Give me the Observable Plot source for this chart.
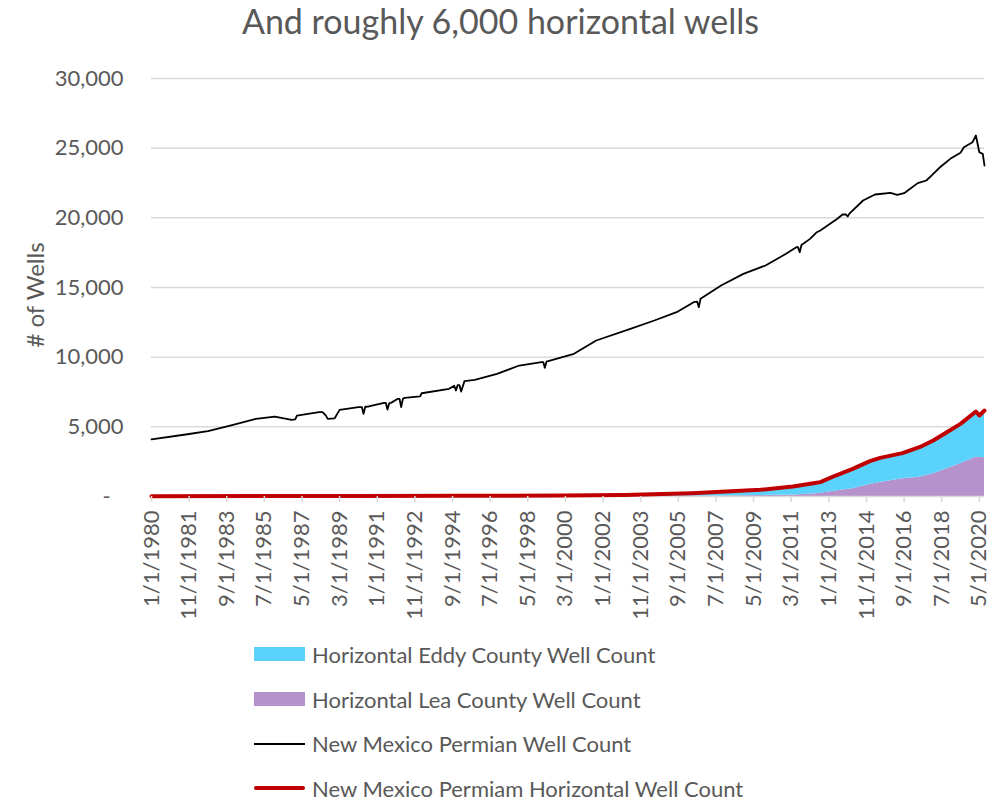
<!DOCTYPE html>
<html><head><meta charset="utf-8">
<script src="https://cdn.jsdelivr.net/npm/d3@7"></script>
<script src="https://cdn.jsdelivr.net/npm/@observablehq/plot@0.6"></script>
<style>
body{margin:0;background:#fff;font-family:Lato,"Open Sans",sans-serif;color:#595959;}
#wrap{position:relative;width:1001px;height:802px;overflow:hidden;background:#fff}
#title{position:absolute;top:-2px;left:0;width:1001px;text-align:center;font-size:34px;line-height:46px;white-space:nowrap}
#chart{position:absolute;top:40px;left:0}
#ylab{position:absolute;left:34px;top:295px;transform:translate(-50%,-50%) rotate(-90deg);font-size:24px;white-space:nowrap}
#legend{position:absolute;left:254px;top:632px}
.item{display:flex;align-items:center;height:44.7px;font-size:22px;white-space:nowrap}
.sw{width:51px;margin-right:7px;}
</style></head>
<body><div id="wrap"><div id="title">And roughly 6,000 horizontal wells</div><div id="chart"></div><div id="ylab"># of Wells</div><div id="legend"></div></div>
<script>
const blackDates = ["1980-01","1981-09","1982-10","1983-11","1985-02","1986-01","1986-11","1987-01","1987-02","1988-03","1988-05","1988-07","1988-08","1988-12","1989-03","1990-02","1990-04","1990-05","1990-06","1990-08","1991-05","1991-06","1991-07","1991-08","1991-09","1992-01","1992-02","1992-03","1992-04","1992-05","1993-02","1993-03","1994-07","1994-10","1994-11","1994-12","1995-01","1995-02","1995-04","1995-10","1996-11","1997-12","1999-01","1999-02","1999-03","1999-04","1999-05","2000-08","2001-09","2003-05","2004-07","2005-08","2006-06","2006-08","2006-09","2006-10","2007-10","2008-11","2009-12","2010-12","2011-06","2011-07","2011-08","2011-09","2012-02","2012-06","2012-08","2013-06","2013-09","2013-11","2013-12","2014-01","2014-09","2015-04","2016-01","2016-05","2016-09","2017-05","2017-10","2018-02","2018-06","2018-12","2019-06","2019-08","2020-01","2020-03","2020-05","2020-07","2020-08"];
const blackValues = [4100,4450,4690,5095,5575,5740,5500,5530,5810,6050,6060,5800,5575,5600,6220,6410,6420,5935,6440,6460,6720,6720,6240,6700,6720,7010,7000,6410,7020,7080,7180,7410,7730,7950,7610,8000,8000,7535,8280,8375,8805,9400,9640,9650,9235,9690,9710,10240,11195,12035,12630,13230,13945,13990,13590,14190,15140,15980,16580,17420,17890,17900,17530,18050,18490,18970,19090,19930,20240,20240,20095,20300,21245,21675,21795,21650,21770,22490,22680,23160,23630,24235,24665,25070,25430,25910,24710,24590,23755];

const horizDates = ["1980-01","1985-01","1990-01","1995-01","2000-01","2003-01","2006-05","2008-01","2009-09","2011-04","2012-04","2012-08","2013-05","2014-03","2015-01","2015-07","2016-08","2017-06","2018-02","2018-10","2019-06","2020-03","2020-05","2020-08"];
const horizTotal = [20,30,40,50,70,110,240,350,480,720,950,1030,1505,1985,2535,2775,3110,3540,4020,4615,5215,6100,5815,6170];
const leaValues  = [0,0,0,0,5,10,20,40,70,110,180,240,400,550,860,1000,1270,1385,1625,1985,2345,2820,2800,2775];
const eddyValues = [15,25,35,45,60,90,200,290,390,580,740,770,1080,1400,1640,1740,1800,2120,2360,2600,2840,3250,2990,3370];

const xTickDates = ["1980-01","1981-11","1983-09","1985-07","1987-05","1989-03","1991-01","1992-11","1994-09","1996-07","1998-05","2000-03","2002-01","2003-11","2005-09","2007-07","2009-05","2011-03","2013-01","2014-11","2016-09","2018-07","2020-05"];
const yTicks = [0,5000,10000,15000,20000,25000,30000];

const seriesNames = ["Horizontal Eddy County Well Count","Horizontal Lea County Well Count","New Mexico Permian Well Count","New Mexico Permiam Horizontal Well Count"];
const seriesColors = ["#5BD2FB","#B592CB","#000000","#C00000"];

const parse = d3.utcParse("%Y-%m");
const black = blackDates.map((d,i)=>({date:parse(d), value:blackValues[i]}));
const horiz = horizDates.map((d,i)=>({date:parse(d), value:horizTotal[i]}));
const stacked = [
  ...horizDates.map((d,i)=>({date:parse(d), county:"Lea", value:leaValues[i]})),
  ...horizDates.map((d,i)=>({date:parse(d), county:"Eddy", value:eddyValues[i]}))
];

const chart = Plot.plot({
  width:1001, height:590,
  marginTop:38, marginBottom:134, marginLeft:151, marginRight:17,
  style:{fontFamily:"Lato, 'Open Sans', sans-serif", fontSize:"22px", color:"#595959", background:"#fff"},
  x:{type:"utc", domain:[parse("1980-01"), parse("2020-08")]},
  y:{domain:[0,30000]},
  color:{domain:["Lea","Eddy"], range:[seriesColors[1], seriesColors[0]]},
  marks:[
    Plot.gridY(yTicks.filter(d=>d>0), {stroke:"#d9d9d9", strokeOpacity:1, strokeWidth:1.5}),
    Plot.areaY(stacked, {x:"date", y:"value", fill:"county", order:["Lea","Eddy"], curve:"linear"}),
    Plot.ruleY([0], {stroke:"#d9d9d9", strokeWidth:1.5}),
    Plot.lineY(black, {x:"date", y:"value", stroke:seriesColors[2], strokeWidth:1.8}),
    Plot.lineY(horiz, {x:"date", y:"value", stroke:seriesColors[3], strokeWidth:4, strokeLinejoin:"round"}),
    Plot.axisX(xTickDates.map(parse), {tickFormat:d3.utcFormat("%-m/%-d/%Y"), tickRotate:-90, tickSize:6, tickPadding:8, stroke:"#d9d9d9", fill:"#595959", strokeWidth:1.5, fontSize:22, label:null}),
    Plot.axisY(yTicks, {tickSize:0, tickPadding:28, fill:"#595959", fontSize:22, label:null, tickFormat:d=> d===0 ? "-\u2007" : d3.format(",")(d)})
  ]
});
document.getElementById("chart").appendChild(chart);

const legend = document.getElementById("legend");
seriesNames.forEach((name,i)=>{
  const row = document.createElement("div"); row.className="item";
  const sw = document.createElement("div"); sw.className="sw";
  sw.style.background = seriesColors[i];
  sw.style.height = i<2 ? "14px" : (i===2 ? "2px" : "4px");
  if(i===3) sw.style.borderRadius="2px";
  const t = document.createElement("span"); t.textContent = name;
  row.appendChild(sw); row.appendChild(t); legend.appendChild(row);
});
</script>
</body></html>
